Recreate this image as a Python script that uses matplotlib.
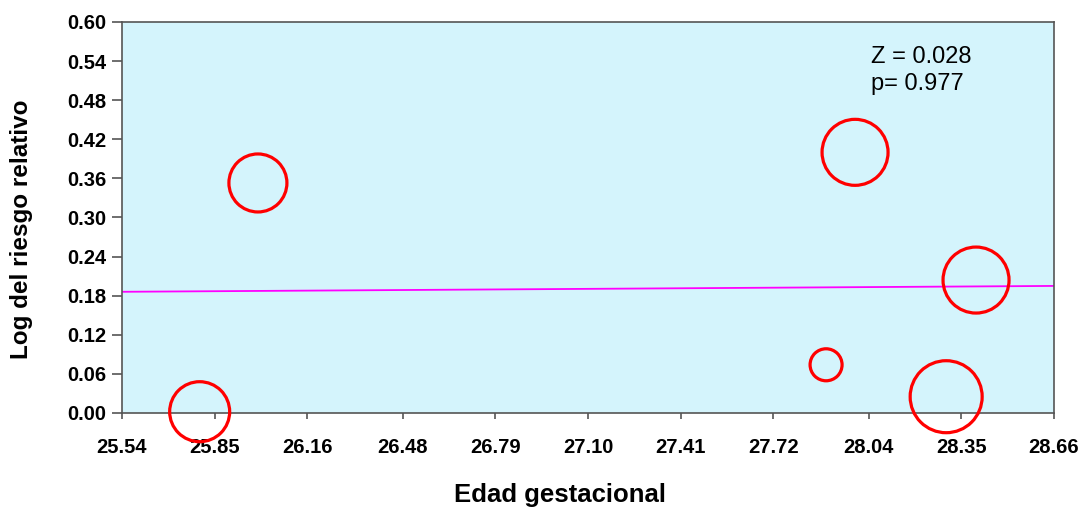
import matplotlib.pyplot as plt

plt.rcParams['font.family'] = ['Liberation Sans', 'DejaVu Sans']

# studies: gestational age vs log relative risk, bubble radius ~ weight
edad = [25.80, 25.995, 27.994, 27.897, 28.299, 28.399]
log_rr = [0.002, 0.353, 0.400, 0.074, 0.025, 0.204]
peso = [30, 29, 33, 16, 36, 33]

# meta-regression line endpoints
fit_x = [25.54, 28.66]
fit_y = [0.186, 0.195]

xticks = [25.54, 25.85, 26.16, 26.48, 26.79, 27.10, 27.41, 27.72, 28.04, 28.35, 28.66]
yticks = [0.00, 0.06, 0.12, 0.18, 0.24, 0.30, 0.36, 0.42, 0.48, 0.54, 0.60]

fig = plt.figure(figsize=(10.86, 5.09), dpi=100)
ax = fig.add_axes([122 / 1086, 1 - 413 / 509, 932 / 1086, 391 / 509])
ax.set_facecolor('#D4F4FC')

# marker size in points^2 from pixel radius
sizes = [(2 * r * 0.72) ** 2 for r in peso]
ax.scatter(edad, log_rr, s=sizes, facecolors='none', edgecolors='#FF0000',
           linewidths=2.3, clip_on=False, zorder=3)
ax.plot(fit_x, fit_y, color='#FF00FF', linewidth=1.3, zorder=2)

ax.set_xlim(25.54, 28.66)
ax.set_ylim(0, 0.60)
ax.set_xticks(xticks)
ax.set_xticklabels(['%.2f' % v for v in xticks])
ax.set_yticks(yticks)
ax.set_yticklabels(['%.2f' % v for v in yticks])

for lab in ax.get_xticklabels() + ax.get_yticklabels():
    lab.set_fontweight('bold')
    lab.set_fontsize(14.5)
ax.tick_params(axis='x', length=4, width=1.2, color='#555555', pad=14)
ax.tick_params(axis='y', length=7, width=1.2, color='#555555', pad=4)

for sp in ax.spines.values():
    sp.set_color('#555555')
    sp.set_linewidth(1.2)

ax.set_xlabel('Edad gestacional', fontsize=18.5, fontweight='bold')
ax.set_ylabel('Log del riesgo relativo', fontsize=17.5, fontweight='bold')
ax.xaxis.set_label_coords(0.47, -0.18)
ax.yaxis.set_label_coords(-0.096, 0.47)

ax.text(0.804, 0.877, 'Z = 0.028\np= 0.977', transform=ax.transAxes,
        fontsize=17, linespacing=1.3, va='center', ha='left')

plt.savefig('out.png', dpi=100)
